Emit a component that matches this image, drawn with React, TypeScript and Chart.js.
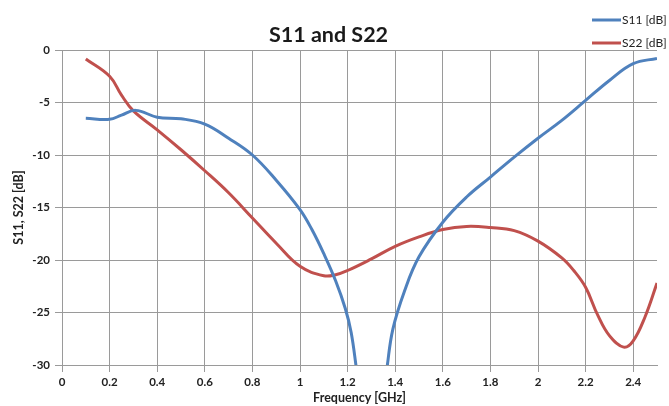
import React, { useEffect, useRef } from "react";
import { Chart, registerables } from "chart.js";

Chart.register(...registerables);

const titleText = "S11 and S22";
const xTitle = "Frequency [GHz]";
const yTitle = "S11, S22 [dB]";
const seriesLabels = ["S11 [dB]", "S22 [dB]"];
const seriesColors = ["#4F81BD", "#C0504D"];

const s11Freq = [0.1, 0.2, 0.25, 0.31, 0.4, 0.5, 0.6, 0.7, 0.8, 0.9, 1.0, 1.05, 1.1, 1.15, 1.19, 1.215, 1.238, 1.3, 1.364, 1.39, 1.44, 1.5, 1.6, 1.7, 1.8, 1.9, 2.0, 2.1, 2.2, 2.3, 2.4, 2.5];
const s11Values = [-6.5, -6.6, -6.2, -5.75, -6.4, -6.55, -7.05, -8.4, -10.0, -12.4, -15.2, -17.1, -19.4, -22.0, -24.6, -26.9, -30.5, null, -30.5, -26.6, -22.9, -19.7, -16.4, -14.0, -12.1, -10.2, -8.4, -6.7, -4.8, -2.9, -1.3, -0.8];

const s22Freq = [0.1, 0.2, 0.25, 0.3, 0.4, 0.5, 0.6, 0.7, 0.8, 0.9, 1.0, 1.1, 1.15, 1.2, 1.3, 1.4, 1.5, 1.6, 1.7, 1.8, 1.9, 2.0, 2.1, 2.15, 2.2, 2.25, 2.3, 2.36, 2.4, 2.45, 2.5];
const s22Values = [-0.85, -2.5, -4.3, -5.8, -7.6, -9.5, -11.5, -13.6, -16.0, -18.4, -20.6, -21.5, -21.4, -21.0, -19.9, -18.7, -17.8, -17.1, -16.8, -16.9, -17.2, -18.2, -19.8, -21.0, -22.6, -25.2, -27.2, -28.3, -27.7, -25.4, -22.2];

const xMin = 0;
const xMax = 2.5;
const xStep = 0.2;
const yMin = -30;
const yMax = 0;
const yStep = 5;

const FONT = "Lato, 'Open Sans', sans-serif";
const GRID = "#9a9a9a";

const sideLegend = {
  id: "sideLegend",
  afterDraw(chart: any) {
    const ctx = chart.ctx;
    const x0 = chart.width - 77;
    const rows = [20, 43];
    ctx.save();
    chart.data.datasets.forEach((ds: any, i: number) => {
      const y = rows[i];
      ctx.strokeStyle = ds.borderColor;
      ctx.lineWidth = 3;
      ctx.beginPath();
      ctx.moveTo(x0, y);
      ctx.lineTo(x0 + 29, y);
      ctx.stroke();
      ctx.fillStyle = "#222";
      ctx.font = `12px ${FONT}`;
      ctx.textBaseline = "middle";
      ctx.textAlign = "left";
      ctx.fillText(ds.label, x0 + 30, y);
    });
    ctx.restore();
  },
};

export default function App() {
  const ref = useRef<HTMLCanvasElement | null>(null);
  useEffect(() => {
    if (!ref.current) return;
    const chart = new Chart(ref.current, {
      type: "line",
      data: {
        datasets: [
          {
            label: seriesLabels[0],
            data: s11Freq.map((f, i) => ({ x: f, y: s11Values[i] })) as any,
            borderColor: seriesColors[0],
            backgroundColor: seriesColors[0],
            borderWidth: 3,
            pointRadius: 0,
            tension: 0.4,
            spanGaps: false,
          },
          {
            label: seriesLabels[1],
            data: s22Freq.map((f, i) => ({ x: f, y: s22Values[i] })) as any,
            borderColor: seriesColors[1],
            backgroundColor: seriesColors[1],
            borderWidth: 3,
            pointRadius: 0,
            tension: 0.4,
          },
        ],
      },
      options: {
        animation: false,
        responsive: true,
        maintainAspectRatio: false,
        layout: { padding: { left: 0, right: 12, top: 0, bottom: 0 } },
        plugins: {
          legend: { display: false },
          tooltip: { enabled: false },
          title: {
            display: true,
            text: titleText,
            color: "#1a1a1a",
            font: { family: FONT, size: 21.5, weight: "bold" },
            padding: { top: 22, bottom: 2.2 },
          },
        },
        scales: {
          x: {
            type: "linear",
            min: xMin,
            max: xMax,
            ticks: {
              stepSize: xStep,
              includeBounds: false,
              color: "#222",
              font: { family: FONT, size: 11.5, weight: "bold" },
              padding: 3,
              maxRotation: 0,
              callback: (v: any) => String(Math.round(Number(v) * 10) / 10),
            },
            grid: { color: GRID, lineWidth: 1, tickLength: 7, drawTicks: true },
            border: { display: true, color: GRID, width: 1 },
            title: {
              display: true,
              text: xTitle,
              color: "#222",
              font: { family: FONT, size: 12.5, weight: "bold" },
              padding: { top: 0, bottom: 1 },
            },
            afterFit: (s: any) => {
              s.height = 41;
            },
          },
          y: {
            type: "linear",
            min: yMin,
            max: yMax,
            ticks: {
              stepSize: yStep,
              color: "#222",
              font: { family: FONT, size: 11.5, weight: "bold" },
              padding: 5,
            },
            grid: { color: GRID, lineWidth: 1, tickLength: 7, drawTicks: true },
            border: { display: true, color: GRID, width: 1 },
            title: {
              display: true,
              text: yTitle,
              color: "#222",
              font: { family: FONT, size: 12.5, weight: "bold" },
              padding: { top: 11, bottom: 0 },
            },
            afterFit: (s: any) => {
              s.width = 62;
            },
          },
        },
      },
      plugins: [sideLegend],
    });
    return () => chart.destroy();
  }, []);
  return (
    <div style={{ position: "fixed", left: 0, top: 0, width: 669, height: 406, background: "#fff" }}>
      <canvas ref={ref} />
    </div>
  );
}
